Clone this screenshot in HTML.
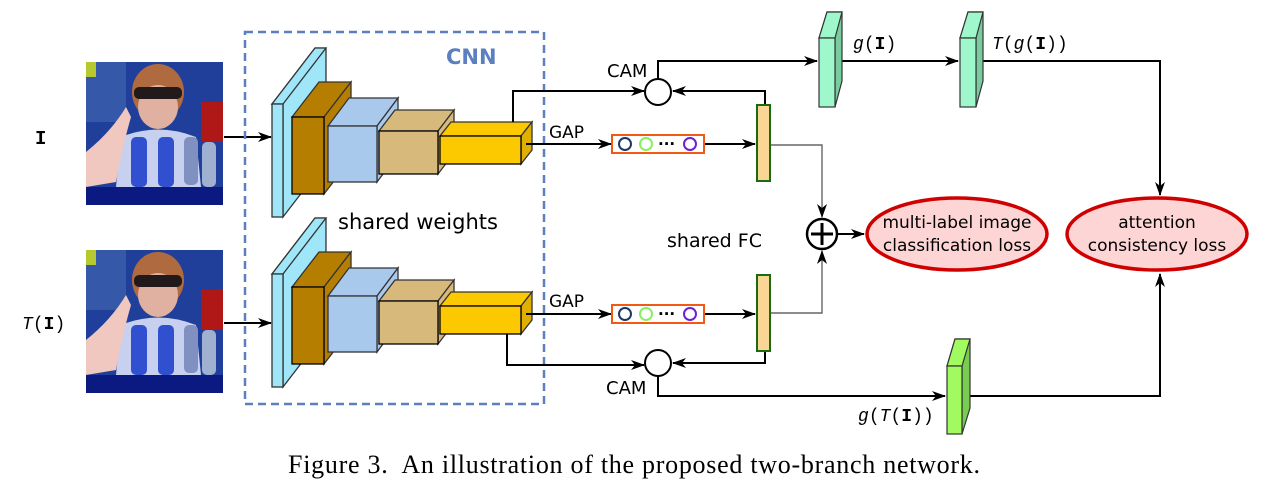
<!DOCTYPE html>
<html><head><meta charset="utf-8"><style>
html,body{margin:0;padding:0;background:#fff;}
svg{display:block;}
.sans{font-family:"DejaVu Sans","Liberation Sans",sans-serif;}
.mono{font-family:"Liberation Mono",monospace;}
.serif{font-family:"Liberation Serif",serif;}
</style></head><body>
<svg width="1269" height="488" viewBox="0 0 1269 488" xmlns="http://www.w3.org/2000/svg">
<defs>
<marker id="ar" markerWidth="14" markerHeight="10" refX="13" refY="5" orient="auto" markerUnits="userSpaceOnUse">
<path d="M0,0 L14,5 L0,10 L4,5 Z" fill="#000"/></marker>
<g id="photo">
<rect x="0" y="0" width="137" height="143" fill="#1f3f9a"/>
<rect x="0" y="0" width="40" height="60" fill="#3558a8"/>
<rect x="0" y="0" width="10" height="15" fill="#b8c830"/>
<rect x="115" y="40" width="22" height="40" fill="#b01818"/>
<ellipse cx="72" cy="30" rx="26" ry="28" fill="#b06a40"/>
<ellipse cx="72" cy="45" rx="20" ry="22" fill="#e0b0a0"/>
<rect x="48" y="25" width="48" height="12" rx="5" fill="#221a1a"/>
<path d="M35,75 Q72,60 110,75 L115,125 L30,125 Z" fill="#c8d0f0"/>
<path d="M0,90 Q25,70 40,45 L45,55 Q35,90 30,120 L0,125 Z" fill="#f0c8c0"/>
<rect x="45" y="75" width="16" height="50" rx="5" fill="#3050d0"/>
<rect x="72" y="75" width="16" height="50" rx="5" fill="#3050d0"/>
<rect x="98" y="75" width="14" height="48" rx="5" fill="#8090c0"/>
<rect x="116" y="80" width="14" height="45" rx="5" fill="#a0b0d0"/>
<rect x="0" y="125" width="137" height="18" fill="#0a1a80"/>
</g>
</defs>

<use href="#photo" x="86" y="62"/>
<use href="#photo" x="86" y="250"/>
<text x="35" y="144" class="mono" font-size="19" font-weight="bold">I</text>
<text x="22" y="329" class="mono" font-size="18"><tspan font-style="italic">T</tspan>(<tspan font-weight="bold">I</tspan>)</text>

<line x1="224" y1="137" x2="271" y2="137" stroke="#000" stroke-width="2" marker-end="url(#ar)"/>
<line x1="224" y1="323" x2="271" y2="323" stroke="#000" stroke-width="2" marker-end="url(#ar)"/>

<rect x="245" y="32" width="299" height="372" fill="none" stroke="#5b7fbf" stroke-width="2.5" stroke-dasharray="8,5"/>
<text x="446" y="64" class="sans" font-size="21" font-weight="bold" fill="#5b7fbf">CNN</text>
<text x="338" y="229" class="sans" font-size="21">shared weights</text>

<g id="cnn" stroke="#333" stroke-width="1.3">
<path d="M272,104 L315,48 L326,48 L326,161 L283,217 L283,104 Z" fill="#9ee6f8"/>
<path d="M272,104 L315,48 L326,48 L283,104 Z" fill="#9ee6f8"/>
<rect x="272" y="104" width="11" height="113" fill="#9ee6f8"/>
<path d="M292,117 L319,82 L351,82 L324,117 Z" fill="#b57e00"/>
<path d="M324,117 L351,82 L351,159 L324,194 Z" fill="#b57e00"/>
<rect x="292" y="117" width="32" height="77" fill="#b57e00" stroke="#000"/>
<path d="M328,126 L349,98 L398,98 L377,126 Z" fill="#a9c9ec"/>
<path d="M377,126 L398,98 L398,154 L377,182 Z" fill="#a9c9ec"/>
<rect x="328" y="126" width="49" height="56" fill="#a9c9ec"/>
<path d="M379,131 L395,110 L454,110 L438,131 Z" fill="#d8b97c"/>
<path d="M438,131 L454,110 L454,153 L438,174 Z" fill="#d8b97c"/>
<rect x="379" y="131" width="59" height="43" fill="#d8b97c" stroke="#000"/>
<path d="M440,136 L451,122 L532,122 L521,136 Z" fill="#fcc800"/>
<path d="M521,136 L532,122 L532,150 L521,164 Z" fill="#e0b000"/>
<rect x="440" y="136" width="81" height="28" fill="#fcc800" stroke="#000"/>
</g>
<use href="#cnn" x="0" y="170"/>

<g fill="none" stroke="#000" stroke-width="2">
<polyline points="513,122 513,91 644,91" marker-end="url(#ar)"/>
<line x1="526" y1="144" x2="611" y2="144" marker-end="url(#ar)"/>
<line x1="704" y1="144" x2="755" y2="144" marker-end="url(#ar)"/>
<polyline points="765,105 765,91 673,91" marker-end="url(#ar)"/>
<polyline points="658,78 658,61 817,61" marker-end="url(#ar)"/>
<line x1="842" y1="61" x2="958" y2="61" marker-end="url(#ar)"/>
<polyline points="981,61 1160,61 1160,195" marker-end="url(#ar)"/>
<polyline points="507,334 507,365 644,365" marker-end="url(#ar)"/>
<line x1="526" y1="314" x2="611" y2="314" marker-end="url(#ar)"/>
<line x1="704" y1="314" x2="755" y2="314" marker-end="url(#ar)"/>
<polyline points="765,351 765,363 673,363" marker-end="url(#ar)"/>
<polyline points="658,376 658,396 945,396" marker-end="url(#ar)"/>
<polyline points="968,396 1160,396 1160,274" marker-end="url(#ar)"/>
<line x1="837" y1="234" x2="864" y2="234" marker-end="url(#ar)"/>
</g>
<g fill="none" stroke="#666" stroke-width="1.4">
<polyline points="770,145 822,145 822,217" marker-end="url(#ar)"/>
<polyline points="770,313 822,313 822,251" marker-end="url(#ar)"/>
</g>

<circle cx="658" cy="92" r="13" fill="#fff" stroke="#000" stroke-width="2"/>
<circle cx="658" cy="363" r="13" fill="#fff" stroke="#000" stroke-width="2"/>
<text x="607" y="77" class="sans" font-size="18">CAM</text>
<text x="606" y="394" class="sans" font-size="18">CAM</text>
<text x="549" y="138" class="sans" font-size="17">GAP</text>
<text x="549" y="307" class="sans" font-size="17">GAP</text>

<g id="gap">
<rect x="612" y="135" width="92" height="18" fill="#fff" stroke="#f05a14" stroke-width="2"/>
<circle cx="625" cy="144" r="6" fill="none" stroke="#1a3a6a" stroke-width="2"/>
<circle cx="646" cy="144" r="6" fill="none" stroke="#88f060" stroke-width="2"/>
<circle cx="690" cy="144" r="6" fill="none" stroke="#7020d0" stroke-width="2"/>
<text x="658" y="149" class="sans" font-size="15" font-weight="bold">···</text>
<rect x="757" y="105" width="13" height="76" fill="#fad696" stroke="#1a6a10" stroke-width="2"/>
</g>
<use href="#gap" x="0" y="170"/>

<text x="667" y="247" class="sans" font-size="19">shared FC</text>
<circle cx="822" cy="234" r="15" fill="#fff" stroke="#000" stroke-width="2.5"/>
<path d="M811,234 H833 M822,223 V245" stroke="#000" stroke-width="3"/>

<ellipse cx="957" cy="234" rx="90" ry="36" fill="#fdd5d5" stroke="#d00000" stroke-width="3.5"/>
<text x="957" y="228" class="sans" font-size="17" text-anchor="middle">multi-label image</text>
<text x="957" y="251" class="sans" font-size="17" text-anchor="middle">classification loss</text>
<ellipse cx="1157" cy="234" rx="90" ry="36" fill="#fdd5d5" stroke="#d00000" stroke-width="3.5"/>
<text x="1157" y="228" class="sans" font-size="17" text-anchor="middle">attention</text>
<text x="1157" y="251" class="sans" font-size="17" text-anchor="middle">consistency loss</text>

<g stroke="#333" stroke-width="1.2">
<path d="M819,38 L827,12 L842,12 L842,81 L835,107 L835,38 Z" fill="#78cc9e"/>
<path d="M819,38 L827,12 L842,12 L835,38 Z" fill="#9ef8cc"/>
<rect x="819" y="38" width="16" height="69" fill="#9ef8cc"/>
<path d="M960,38 L968,12 L983,12 L983,81 L976,107 L976,38 Z" fill="#78cc9e"/>
<path d="M960,38 L968,12 L983,12 L976,38 Z" fill="#9ef8cc"/>
<rect x="960" y="38" width="16" height="69" fill="#9ef8cc"/>
<path d="M947,366 L955,339 L970,339 L970,408 L962,434 L962,366 Z" fill="#78cc50"/>
<path d="M947,366 L955,339 L970,339 L962,366 Z" fill="#a0fa60"/>
<rect x="947" y="366" width="15" height="68" fill="#a0fa60"/>
</g>
<text x="853" y="49" class="mono" font-size="18"><tspan font-style="italic">g</tspan>(<tspan font-weight="bold">I</tspan>)</text>
<text x="992" y="49" class="mono" font-size="18"><tspan font-style="italic">T</tspan>(<tspan font-style="italic">g</tspan>(<tspan font-weight="bold">I</tspan>))</text>
<text x="858" y="421" class="mono" font-size="18"><tspan font-style="italic">g</tspan>(<tspan font-style="italic">T</tspan>(<tspan font-weight="bold">I</tspan>))</text>

<text x="288" y="473" class="serif" font-size="26" textLength="692" lengthAdjust="spacing" xml:space="preserve">Figure 3.  An illustration of the proposed two-branch network.</text>
</svg>
</body></html>
